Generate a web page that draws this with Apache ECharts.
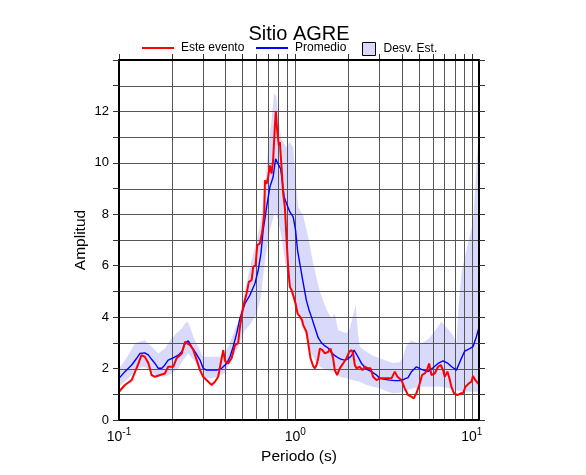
<!DOCTYPE html>
<html><head><meta charset="utf-8">
<script src="https://cdn.jsdelivr.net/npm/echarts@6/dist/echarts.min.js"></script>
<style>html,body{margin:0;padding:0;background:#fff}#c{width:586px;height:475px}</style>
</head><body><div id="c"></div>
<script>
const chartTitle = 'Sitio AGRE';
const xAxisName = 'Periodo (s)';
const yAxisName = 'Amplitud';
const seriesNames = ['Este evento', 'Promedio', 'Desv. Est.'];
const xMin = 0.1, xMax = 11, yMin = 0, yMax = 14;
const xTickValues = [0.1, 1, 10];
const xTickBase = '10';
const xTickExponents = ['-1', '0', '1'];
const yLabelValues = [0, 2, 4, 6, 8, 10, 12];
const gridPeriods = [0.1, 0.2, 0.3, 0.4, 0.5, 0.6, 0.7, 0.8, 0.9, 1, 2, 3, 4, 5, 6, 7, 8, 9, 10];
const gridAmps = [1, 2, 3, 4, 5, 6, 7, 8, 9, 10, 11, 12, 13];

// Este evento (red)
const redT = [
  0.1,0.108,0.118,0.129,0.134,0.140,0.147,0.153,0.160,0.171,
  0.182,0.190,0.203,0.212,0.227,0.237,0.242,0.253,0.264,0.276,
  0.288,0.300,0.321,0.335,0.350,0.365,0.374,0.390,0.399,0.416,
  0.435,0.454,0.474,0.485,0.506,0.529,0.545,0.565,0.577,0.595,
  0.608,0.629,0.649,0.666,0.672,0.687,0.701,0.717,0.733,0.748,
  0.765,0.775,0.789,0.806,0.817,0.835,0.853,0.872,0.892,0.910,
  0.931,0.952,0.972,1.003,1.029,1.060,1.093,1.107,1.157,1.182,
  1.219,1.261,1.290,1.319,1.347,1.377,1.426,1.470,1.534,1.583,
  1.637,1.674,1.725,1.787,1.866,1.950,2.018,2.082,2.126,2.174,
  2.222,2.320,2.403,2.476,2.585,2.668,2.759,2.885,3.012,3.215,
  3.357,3.508,3.663,3.793,3.997,4.173,4.356,4.554,4.692,4.861,
  5.075,5.230,5.417,5.582,5.730,5.912,6.172,6.444,6.675,6.878,
  7.031,7.284,7.438,7.674,7.939,8.299,8.665,8.929,9.214,9.616,
  9.961,10.17,10.49,10.86,10.96];
const redA = [
  1.10,1.36,1.55,2.20,2.52,2.46,2.20,1.75,1.68,1.75,
  1.81,2.07,2.07,2.40,2.59,3.04,3.10,2.91,2.72,2.33,
  1.94,1.68,1.49,1.36,1.49,1.68,1.62,2.72,2.30,2.20,
  2.40,2.90,3.00,3.62,4.40,4.92,5.37,5.44,5.96,6.02,
  6.80,6.86,7.31,8.02,9.32,9.19,9.45,9.90,9.58,10.10,
  11.39,12.01,11.26,10.68,10.81,9.84,8.80,8.28,6.99,5.96,
  5.18,5.05,4.85,4.53,4.14,4.03,3.88,3.70,3.43,3.00,
  2.40,2.10,2.01,2.14,2.40,2.78,2.72,2.59,2.65,2.78,
  2.40,1.94,1.75,2.01,2.20,2.40,2.65,2.72,2.59,2.14,
  2.01,2.07,1.94,2.07,2.01,2.01,1.68,1.55,1.62,1.62,
  1.62,1.62,1.88,1.68,1.55,1.23,0.97,0.91,0.84,1.04,
  1.42,1.75,1.81,1.94,2.20,1.75,1.81,2.07,2.14,1.94,
  1.68,1.88,1.68,1.29,1.04,0.97,1.04,1.04,1.29,1.42,
  1.49,1.71,1.55,1.42,1.40];

// Promedio (blue)
const blueT = [
  0.1,0.108,0.118,0.126,0.1315,0.140,0.147,0.153,0.160,0.167,
  0.175,0.182,0.190,0.203,0.217,0.227,0.237,0.247,0.258,0.270,
  0.288,0.300,0.314,0.335,0.358,0.382,0.408,0.426,0.444,0.465,
  0.485,0.518,0.552,0.590,0.616,0.638,0.657,0.687,0.717,0.748,
  0.773,0.789,0.806,0.825,0.842,0.864,0.892,0.931,0.972,1.003,
  1.029,1.060,1.093,1.117,1.154,1.193,1.235,1.290,1.347,1.407,
  1.470,1.534,1.604,1.674,1.748,1.827,1.908,1.992,2.082,2.153,
  2.202,2.269,2.372,2.532,2.702,2.885,3.012,3.215,3.430,3.663,
  3.997,4.173,4.356,4.554,4.861,5.188,5.655,6.035,6.444,6.878,
  7.34,7.705,8.193,8.743,9.127,9.743,10.17,10.63,10.96];
const blueA = [
  1.62,1.88,2.14,2.40,2.59,2.61,2.52,2.36,2.20,2.01,
  2.01,2.14,2.33,2.42,2.52,2.65,2.98,3.08,2.85,2.65,
  2.33,2.01,1.94,1.94,1.94,2.01,2.20,2.46,2.85,3.37,
  3.95,4.53,4.85,5.31,5.83,6.47,7.38,8.28,9.06,9.45,
  10.16,10.10,9.90,9.77,9.32,8.67,8.41,8.09,7.90,7.38,
  6.60,6.09,5.56,5.20,4.66,4.30,4.00,3.60,3.20,3.00,
  2.88,2.80,2.62,2.50,2.42,2.36,2.33,2.38,2.50,2.72,
  2.78,2.45,2.20,1.98,1.88,1.75,1.62,1.58,1.55,1.53,
  1.53,1.60,1.65,1.88,2.07,1.97,1.88,2.03,2.20,2.30,
  2.20,2.07,1.94,2.40,2.68,2.78,2.85,3.24,3.56];

// Desv. Est. band (upper and lower edges)
const bandUpT = [
  0.1,0.113,0.123,0.140,0.153,0.167,0.182,0.195,0.212,0.227,
  0.237,0.245,0.253,0.264,0.281,0.300,0.321,0.350,0.382,0.416,
  0.454,0.474,0.506,0.552,0.603,0.629,0.672,0.699,0.733,0.758,
  0.783,0.799,0.835,0.892,0.931,0.972,1.0,1.037,1.107,1.182,
  1.261,1.377,1.502,1.604,1.674,1.748,1.950,2.036,2.109,2.202,
  2.269,2.320,2.532,2.759,3.012,3.287,3.582,3.909,4.081,4.266,
  4.554,4.861,5.298,5.781,6.310,6.735,7.192,7.838,8.193,8.442,
  8.777,9.333,9.961,10.26,10.63,10.86,10.96];
const bandUp = [
  2.00,2.52,2.98,3.10,2.85,2.59,2.78,3.10,3.37,3.56,
  3.75,3.82,3.62,3.24,2.85,2.46,2.46,2.46,2.46,2.85,
  3.50,3.80,4.70,5.90,7.00,7.50,9.00,10.50,11.65,12.70,
  12.56,11.80,10.90,10.61,10.81,10.61,9.50,8.28,7.95,7.12,
  6.10,5.00,4.30,3.95,4.14,3.50,3.37,3.56,4.00,4.47,
  3.30,2.85,2.65,2.50,2.40,2.30,2.22,2.25,2.46,2.90,
  3.10,3.00,3.00,3.20,3.55,3.82,3.60,3.30,3.00,4.50,
  5.80,6.60,7.40,8.00,9.80,10.80,11.50];
const bandLoT = [
  0.1,0.113,0.129,0.140,0.153,0.167,0.182,0.199,0.217,0.231,
  0.247,0.270,0.288,0.307,0.335,0.365,0.399,0.435,0.474,0.518,
  0.552,0.603,0.638,0.672,0.717,0.765,0.799,0.835,0.872,0.910,
  0.952,0.994,1.060,1.132,1.235,1.290,1.377,1.502,1.637,1.787,
  1.950,2.126,2.320,2.532,2.759,3.012,3.287,3.582,3.909,4.454,
  5.075,5.781,6.587,7.507,8.551,9.743,10.96];
const bandLo = [
  1.29,1.62,2.01,2.07,1.88,1.68,1.68,1.81,2.01,2.33,
  2.59,2.27,1.88,1.62,1.62,1.68,1.85,2.35,2.85,3.50,
  3.69,4.14,4.79,6.20,7.38,8.09,7.77,7.12,6.21,5.44,
  4.92,4.40,3.88,3.37,2.59,2.33,2.07,1.94,1.88,1.68,
  1.62,1.55,1.49,1.36,1.29,1.23,1.12,1.04,1.06,1.20,
  1.29,1.29,1.30,1.23,1.12,1.10,1.10];

const FONT = '"Liberation Sans", Arial, Helvetica, sans-serif';
const redColor = '#ff0000', blueColor = '#0000ff', bandColor = '#d9d9fb', gridColor = '#555555';

const chart = echarts.init(document.getElementById('c'), null, {renderer: 'canvas'});
const crisp = v => Math.round(v) + 0.5;

function xLabel(v) {
  const i = xTickValues.findIndex(tv => Math.abs(Math.log10(tv) - Math.log10(v)) < 1e-6);
  if (i < 0) return '';
  return '{b|' + xTickBase + '}{s|' + xTickExponents[i] + '}';
}

const option = {
  animation: false,
  backgroundColor: '#ffffff',
  grid: {left: 119, right: 107, top: 60, bottom: 55, containLabel: false},
  graphic: [
    {type: 'text', z: 100,
     style: {text: chartTitle, x: 299, y: 34, font: '20px ' + FONT, fill: '#000',
             align: 'center', verticalAlign: 'middle', textAlign: 'center', textVerticalAlign: 'middle'}},
    {type: 'text', z: 100, x: 81, y: 240, rotation: Math.PI / 2,
     style: {text: yAxisName, x: 0, y: 0, font: '15.5px ' + FONT, fill: '#000',
             align: 'center', verticalAlign: 'middle', textAlign: 'center', textVerticalAlign: 'middle'}}
  ],
  legend: [
    {data: [{name: seriesNames[0], icon: 'rect', itemStyle: {color: redColor, borderWidth: 0}}],
     left: 142, top: 42, padding: 0, itemWidth: 32, itemHeight: 2, selectedMode: false,
     textStyle: {fontFamily: FONT, fontSize: 12, color: '#000', padding: [0, 0, 0, 2]}},
    {data: [{name: seriesNames[1], icon: 'rect', itemStyle: {color: blueColor, borderWidth: 0}}],
     left: 256, top: 42, padding: 0, itemWidth: 32, itemHeight: 2, selectedMode: false,
     textStyle: {fontFamily: FONT, fontSize: 12, color: '#000', padding: [0, 0, 0, 2]}},
    {data: [{name: seriesNames[2], icon: 'rect', itemStyle: {color: bandColor, borderColor: '#000', borderWidth: 1}}],
     left: 362, top: 42, padding: 0, itemWidth: 13, itemHeight: 13, selectedMode: false,
     textStyle: {fontFamily: FONT, fontSize: 12, color: '#000', padding: [0, 0, 0, 3]}}
  ],
  xAxis: [
    {type: 'log', logBase: 10, min: xMin, max: xMax, position: 'bottom', z: 10,
     axisLine: {show: true, onZero: false, lineStyle: {color: '#000', width: 2}},
     axisTick: {show: false}, splitLine: {show: false}, minorTick: {show: false},
     axisLabel: {formatter: xLabel, margin: 7, color: '#000',
       rich: {b: {fontSize: 14, fontFamily: FONT, color: '#000', verticalAlign: 'bottom', lineHeight: 15},
              s: {fontSize: 10, fontFamily: FONT, color: '#000', padding: [0, 0, 7, 0], verticalAlign: 'bottom'}}},
     name: xAxisName, nameLocation: 'middle', nameGap: 26,
     nameTextStyle: {fontFamily: FONT, fontSize: 15.5, color: '#000'}},
    {type: 'log', logBase: 10, min: xMin, max: xMax, position: 'top', z: 10,
     axisLine: {show: true, onZero: false, lineStyle: {color: '#000', width: 2}},
     axisTick: {show: false}, axisLabel: {show: false}, splitLine: {show: false}}
  ],
  yAxis: [
    {type: 'value', min: yMin, max: yMax, interval: 1, position: 'left', z: 10,
     axisLine: {show: true, onZero: false, lineStyle: {color: '#000', width: 2}},
     axisTick: {show: true, inside: false, length: 6, lineStyle: {color: '#333', width: 1}},
     splitLine: {show: false},
     axisLabel: {formatter: v => yLabelValues.includes(v) ? String(v) : '', margin: 10,
                 fontFamily: FONT, fontSize: 13, color: '#000'}},
    {type: 'value', min: yMin, max: yMax, interval: 1, position: 'right', z: 10,
     axisLine: {show: true, onZero: false, lineStyle: {color: '#000', width: 2}},
     axisTick: {show: true, inside: false, length: 6, lineStyle: {color: '#333', width: 1}},
     splitLine: {show: false}, axisLabel: {show: false}}
  ],
  series: [
    {
      type: 'custom', name: seriesNames[2], z: 1, xAxisIndex: 0, yAxisIndex: 0, silent: true,
      itemStyle: {color: bandColor},
      data: [[bandUpT[0], bandUp[0]]], encode: {x: 0, y: 1},
      renderItem: function (params, api) {
        const pts = [];
        for (let i = 0; i < bandUpT.length; i++) pts.push(api.coord([bandUpT[i], bandUp[i]]));
        for (let i = bandLoT.length - 1; i >= 0; i--) pts.push(api.coord([bandLoT[i], bandLo[i]]));
        return {type: 'polygon', shape: {points: pts}, style: {fill: bandColor, stroke: null}};
      }
    },
    {
      type: 'custom', name: 'vgrid', z: 2, xAxisIndex: 0, yAxisIndex: 0, silent: true,
      data: gridPeriods.map(t => [t, yMin]), encode: {x: 0, y: 1},
      renderItem: function (params, api) {
        const t = gridPeriods[params.dataIndex];
        const top = api.coord([t, yMax]);
        const bot = api.coord([t, yMin]);
        const x = crisp(top[0]);
        const children = [];
        if (t > xMin) children.push({type: 'line', shape: {x1: x, y1: top[1], x2: x, y2: bot[1]},
                                     style: {stroke: gridColor, lineWidth: 1}});
        children.push({type: 'line', shape: {x1: x, y1: top[1], x2: x, y2: top[1] - 6},
                       style: {stroke: '#333', lineWidth: 1}});
        return {type: 'group', children: children};
      }
    },
    {
      type: 'custom', name: 'hgrid', z: 2, xAxisIndex: 0, yAxisIndex: 0, silent: true,
      data: gridAmps.map(a => [xMin, a]), encode: {x: 0, y: 1},
      renderItem: function (params, api) {
        const a = gridAmps[params.dataIndex];
        const l = api.coord([xMin, a]);
        const r = api.coord([xMax, a]);
        const y = crisp(l[1]);
        return {type: 'line', shape: {x1: l[0], y1: y, x2: r[0], y2: y},
                style: {stroke: gridColor, lineWidth: 1}};
      }
    },
    {
      type: 'line', name: seriesNames[1], z: 3, showSymbol: false, symbol: 'none',
      color: blueColor, itemStyle: {color: blueColor},
      lineStyle: {color: blueColor, width: 1.4},
      data: blueT.map((t, i) => [t, blueA[i]])
    },
    {
      type: 'line', name: seriesNames[0], z: 4, showSymbol: false, symbol: 'none',
      color: redColor, itemStyle: {color: redColor},
      lineStyle: {color: redColor, width: 2},
      data: redT.map((t, i) => [t, redA[i]])
    }
  ]
};
chart.setOption(option);
</script>
</body></html>
